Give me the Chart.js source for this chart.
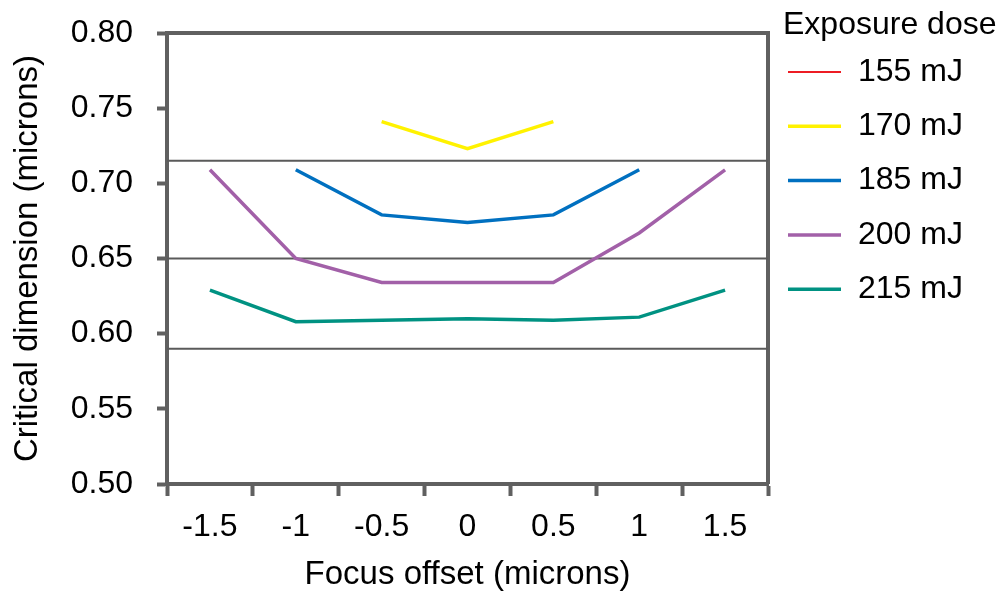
<!DOCTYPE html>
<html>
<head>
<meta charset="utf-8">
<script src="https://cdn.jsdelivr.net/npm/chart.js@4"></script>
<style>
    html, body { margin: 0; padding: 0; background: #fff; }
    #wrap { width: 1008px; height: 592px; }
</style>
</head>
<body>
<div id="wrap"><canvas id="cdChart" width="1008" height="592"></canvas></div>
<script>
// focus offsets where critical dimension was measured (microns)
const focusOffsets = [-1.5, -1, -0.5, 0, 0.5, 1, 1.5];

// critical dimension per exposure dose (microns), null = not printed
const cd155 = [null, null, null, null, null, null, null];
const cd170 = [null, null, 0.741, 0.723, 0.741, null, null];
const cd185 = [null, 0.709, 0.679, 0.674, 0.679, 0.709, null];
const cd200 = [0.709, 0.650, 0.634, 0.634, 0.634, 0.667, 0.709];
const cd215 = [0.629, 0.608, 0.609, 0.610, 0.609, 0.611, 0.629];

const doseLabels = ["155 mJ", "170 mJ", "185 mJ", "200 mJ", "215 mJ"];
const doseColors = ["#ed1c24", "#fff200", "#0070c0", "#a260a8", "#009282"];

// horizontal reference levels (microns)
const limitLevels = [0.715, 0.650, 0.590];

const xRange = [-1.75, 1.75];
const yRange = [0.50, 0.80];

const legendTitle = "Exposure dose";
const xTitle = "Focus offset (microns)";
const yTitle = "Critical dimension (microns)";

const axisColor = "#606060";
const FONT = "'Liberation Sans', Arial, Helvetica, sans-serif";

function toPoints(values) {
    return focusOffsets.map((x, i) => ({ x: x, y: values[i] }));
}

const seriesValues = [cd155, cd170, cd185, cd200, cd215];

const datasets = seriesValues.map((vals, i) => ({
    label: doseLabels[i],
    data: toPoints(vals),
    borderColor: doseColors[i],
    backgroundColor: doseColors[i],
    borderWidth: i === 0 ? 2 : 3.5,
    pointRadius: 0,
    tension: 0,
    spanGaps: false
}));

limitLevels.forEach(level => {
    datasets.push({
        isLimit: true,
        data: [{ x: xRange[0], y: level }, { x: xRange[1], y: level }],
        borderColor: "#5a5a5a",
        borderWidth: 2,
        pointRadius: 0
    });
});

// top and right edges of the plot box
const frame = {
    id: "frame",
    beforeDatasetsDraw(chart) {
        const { ctx, chartArea } = chart;
        ctx.save();
        ctx.strokeStyle = axisColor;
        ctx.lineWidth = 4;
        ctx.beginPath();
        ctx.moveTo(chartArea.left, chartArea.top);
        ctx.lineTo(chartArea.right, chartArea.top);
        ctx.lineTo(chartArea.right, chartArea.bottom);
        ctx.stroke();
        ctx.restore();
    }
};

// legend at the right: title + one short line per dose
const doseLegend = {
    id: "doseLegend",
    afterDraw(chart) {
        const ctx = chart.ctx;
        const x0 = chart.chartArea.right + 20;
        ctx.save();
        ctx.fillStyle = "#000";
        ctx.textBaseline = "middle";
        ctx.textAlign = "left";
        ctx.font = "32px " + FONT;
        ctx.fillText(legendTitle, x0 - 5, 25);
        chart.data.datasets.filter(d => !d.isLimit).forEach((ds, i) => {
            const y = 72 + i * 54.3;
            ctx.strokeStyle = ds.borderColor;
            ctx.lineWidth = ds.borderWidth;
            ctx.beginPath();
            ctx.moveTo(x0, y);
            ctx.lineTo(x0 + 53, y);
            ctx.stroke();
            ctx.fillText(ds.label, x0 + 70, y);
        });
        ctx.restore();
    }
};

new Chart(document.getElementById("cdChart"), {
    type: "line",
    data: { datasets: datasets },
    options: {
        responsive: false,
        animation: false,
        layout: {
            padding: { left: 0, top: 33, right: 240, bottom: 0 }
        },
        plugins: {
            legend: { display: false },
            tooltip: { enabled: false }
        },
        scales: {
            x: {
                type: "linear",
                min: xRange[0],
                max: xRange[1],
                afterFit: function(scale) {
                    scale.height = 108;
                    scale.paddingLeft = 0;
                    scale.paddingRight = 0;
                },
                border: { color: axisColor, width: 4 },
                grid: {
                    drawOnChartArea: false,
                    tickLength: 12,
                    tickWidth: 4,
                    tickColor: function(ctx) {
                        return Number.isInteger(ctx.tick.value * 2) ? "rgba(0,0,0,0)" : axisColor;
                    }
                },
                ticks: {
                    stepSize: 0.25,
                    autoSkip: false,
                    maxRotation: 0,
                    padding: 12,
                    color: "#000",
                    font: { family: FONT, size: 32 },
                    callback: function(value) {
                        return Number.isInteger(value * 2) ? String(value) : "";
                    }
                },
                title: {
                    display: true,
                    text: xTitle,
                    color: "#000",
                    font: { family: FONT, size: 33 },
                    padding: { top: 0, bottom: -3 }
                }
            },
            y: {
                type: "linear",
                min: yRange[0],
                max: yRange[1],
                afterFit: function(scale) {
                    scale.width = 167;
                    scale.paddingTop = 0;
                    scale.paddingBottom = 0;
                },
                border: { color: axisColor, width: 4 },
                grid: {
                    drawOnChartArea: false,
                    tickLength: 10,
                    tickWidth: 4,
                    tickColor: axisColor
                },
                ticks: {
                    stepSize: 0.05,
                    padding: 24,
                    color: "#000",
                    font: { family: FONT, size: 32 },
                    callback: function(value) {
                        return value.toFixed(2);
                    }
                },
                title: {
                    display: true,
                    text: yTitle,
                    color: "#000",
                    font: { family: FONT, size: 33 },
                    padding: { top: 8, bottom: 0 }
                }
            }
        }
    },
    plugins: [frame, doseLegend]
});
</script>
</body>
</html>
